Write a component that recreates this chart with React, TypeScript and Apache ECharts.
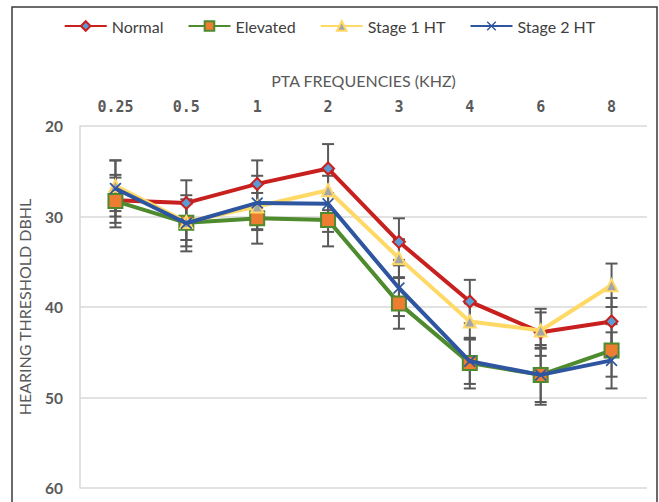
import React, { useEffect, useRef } from "react";
import * as echarts from "echarts";

const categories = ["0.25", "0.5", "1", "2", "3", "4", "6", "8"];
const seriesNames = ["Normal", "Elevated", "Stage 1 HT", "Stage 2 HT"];
const normalMean = [28.2, 28.5, 26.4, 24.7, 32.8, 39.4, 42.8, 41.6];
const elevatedMean = [28.3, 30.7, 30.2, 30.4, 39.6, 46.2, 47.5, 44.8];
const stage1Mean = [26.6, 30.6, 28.9, 27.1, 34.6, 41.6, 42.6, 37.6];
const stage2Mean = [26.9, 30.75, 28.5, 28.6, 37.9, 46.0, 47.5, 45.9];
const normalErr = [2.5, 2.5, 2.6, 2.7, 2.6, 2.4, 2.6, 2.6];
const elevatedErr = [2.9, 2.6, 2.8, 2.9, 2.8, 2.8, 3.3, 2.9];
const stage1Err = [2.8, 2.0, 2.5, 2.2, 2.1, 2.0, 2.0, 2.4];
const stage2Err = [3.1, 3.1, 3.0, 3.1, 3.1, 2.5, 3.0, 3.1];
const yTicks = [20, 30, 40, 50, 60];

const means = [normalMean, elevatedMean, stage1Mean, stage2Mean];
const errs = [normalErr, elevatedErr, stage1Err, stage2Err];

const lineColors = ["#C8201E", "#4E8A2E", "#FFD966", "#2E55A0"];
const markerFill = ["#5B9BD5", "#ED7D31", "#A5A5A5", "#2E55A0"];
const symbols = [
  "diamond",
  "rect",
  "triangle",
  "path://M1,0 L5,4 L9,0 L10,1 L6,5 L10,9 L9,10 L5,6 L1,10 L0,9 L4,5 L0,1 Z",
];
const symbolSizes = [12, 14, 12, 12];

export default function App() {
  const ref = useRef<HTMLDivElement>(null);
  useEffect(() => {
    if (!ref.current) return;
    const chart = echarts.init(ref.current, undefined, { renderer: "svg" });
    const font = "Lato";
    const errSeries = means.map((m, si) => ({
      type: "custom",
      name: seriesNames[si] + " err",
      z: 1,
      silent: true,
      legendHoverLink: false,
      data: m.map((v, i) => [i, v, errs[si][i]]),
      encode: { x: 0, y: 1 },
      renderItem: (params: any, api: any) => {
        const x = api.value(0);
        const mv = api.value(1);
        const e = api.value(2);
        const top = api.coord([x, mv - e]);
        const bot = api.coord([x, mv + e]);
        const hw = 6;
        const st = { stroke: "#595959", lineWidth: 2 };
        return {
          type: "group",
          children: [
            { type: "line", shape: { x1: top[0], y1: top[1], x2: bot[0], y2: bot[1] }, style: st },
            { type: "line", shape: { x1: top[0] - hw, y1: top[1], x2: top[0] + hw, y2: top[1] }, style: st },
            { type: "line", shape: { x1: bot[0] - hw, y1: bot[1], x2: bot[0] + hw, y2: bot[1] }, style: st },
          ],
        };
      },
    }));
    const lineSeries = means.map((m, si) => ({
      type: "line",
      name: seriesNames[si],
      z: 3 + si,
      data: m,
      symbol: symbols[si],
      symbolSize: symbolSizes[si],
      showAllSymbol: true,
      lineStyle: { color: lineColors[si], width: 4 },
      itemStyle: {
        color: markerFill[si],
        borderColor: si === 3 ? markerFill[si] : lineColors[si],
        borderWidth: si === 3 ? 0 : 2,
      },
    }));
    chart.setOption({
      animation: false,
      backgroundColor: "#ffffff",
      graphic: [
        {
          type: "rect",
          z: -10,
          shape: { x: 12, y: 7, width: 645, height: 520 },
          style: { fill: "none", stroke: "#3a3a3a", lineWidth: 1.5 },
          silent: true,
        },
      ],
      legend: {
        top: 13,
        left: "center",
        data: seriesNames,
        itemWidth: 42,
        itemHeight: 12,
        itemGap: 24,
        textStyle: { fontFamily: font, fontSize: 16, color: "#404040" },
      },
      grid: { left: 80, right: 12, top: 126, bottom: 14 },
      xAxis: {
        type: "category",
        position: "top",
        data: categories,
        boundaryGap: true,
        name: "PTA FREQUENCIES (KHZ)",
        nameLocation: "middle",
        nameGap: 38,
        nameTextStyle: { fontFamily: font, fontSize: 16, color: "#595959" },
        axisLine: { show: false },
        axisTick: { show: false },
        axisLabel: { fontFamily: "DejaVu Sans Mono", fontSize: 15, fontWeight: "bold", color: "#595959", margin: 12 },
      },
      yAxis: {
        type: "value",
        inverse: true,
        min: yTicks[0],
        max: yTicks[yTicks.length - 1],
        interval: 10,
        name: "HEARING THRESHOLD DBHL",
        nameLocation: "middle",
        nameGap: 48,
        nameTextStyle: { fontFamily: font, fontSize: 16, color: "#595959" },
        axisLine: { show: true, lineStyle: { color: "#D9D9D9", width: 1.5 } },
        axisTick: { show: false },
        axisLabel: { fontFamily: font, fontSize: 15.5, fontWeight: "bold", color: "#595959", margin: 17 },
        splitLine: { show: true, lineStyle: { color: "#D9D9D9", width: 1.5 } },
      },
      series: [...errSeries, ...lineSeries],
    });
    return () => chart.dispose();
  }, []);
  return (
    <div
      ref={ref}
      style={{ position: "fixed", left: 0, top: 0, width: 659, height: 502 }}
    />
  );
}
